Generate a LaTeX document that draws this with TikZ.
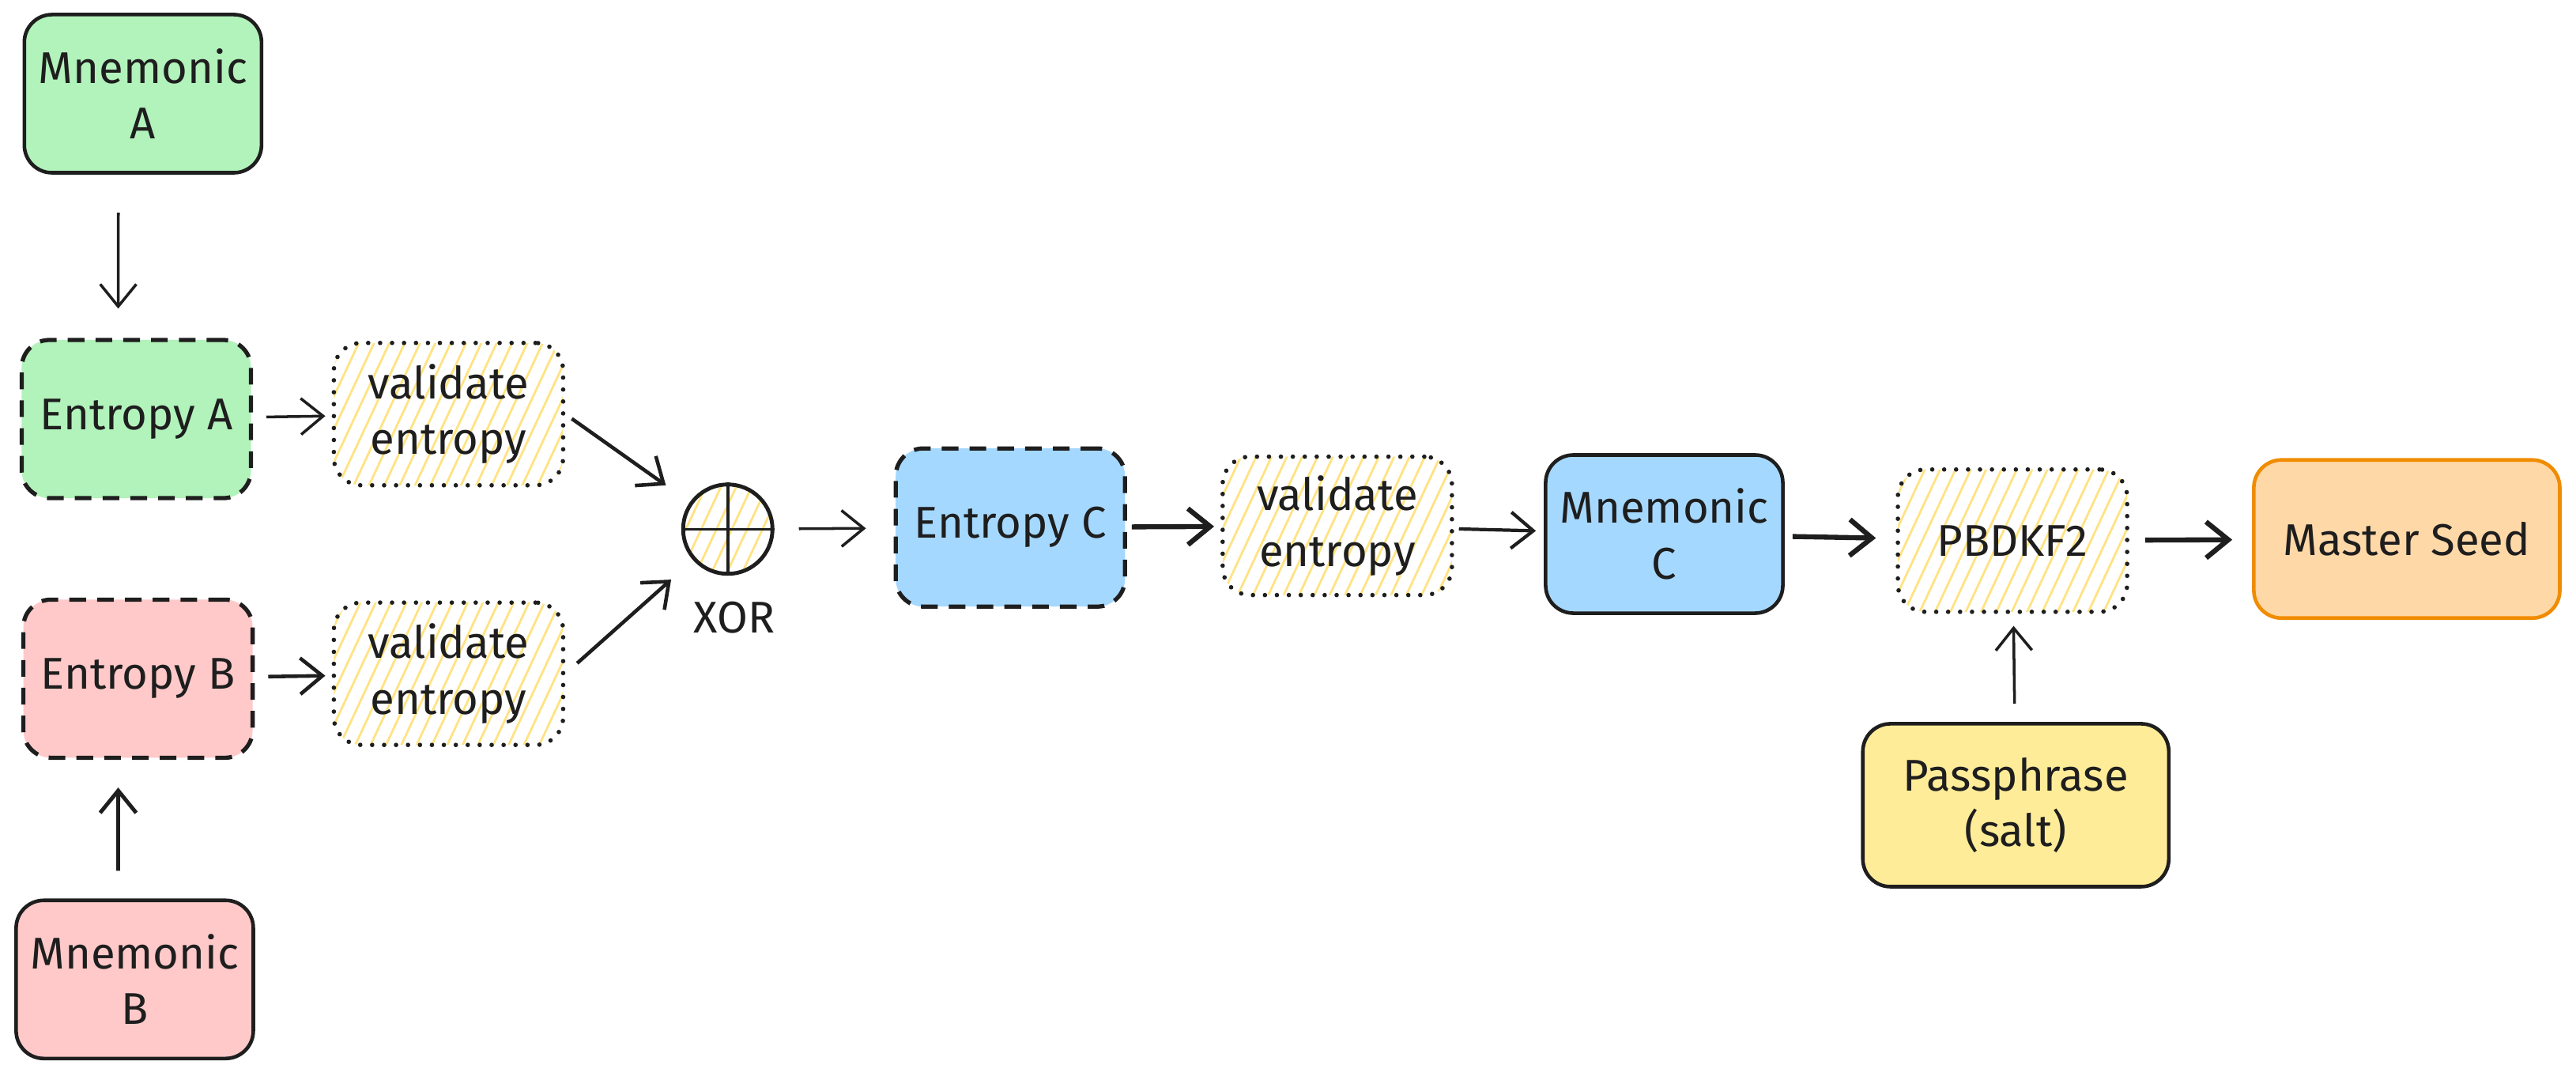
\documentclass[tikz,border=0pt]{standalone}
\usepackage{xcolor}
\usepackage{fontspec}
\setmainfont{Fira Sans}
\usepackage{tikz}
\usetikzlibrary{arrows.meta,patterns.meta,positioning}
\definecolor{ink}{HTML}{1E1E1E}
\definecolor{grn}{HTML}{B2F2BB}
\definecolor{rd}{HTML}{FFC9C9}
\definecolor{blu}{HTML}{A5D8FF}
\definecolor{ylw}{HTML}{FFEC99}
\definecolor{org}{HTML}{FFD8A8}
\definecolor{orgline}{HTML}{F08C00}
\definecolor{hatch}{HTML}{FFE383}
\tikzstyle{hatched} = [path picture={\fill[solid, pattern={Lines[angle=65,distance=5pt,line width=0.8pt]}, pattern color=hatch] (path picture bounding box.south west) rectangle (path picture bounding box.north east);}]
\tikzstyle{box_s} = [rectangle, rounded corners=0.35cm, draw=ink, line width=1.3pt, align=center, text=ink, font=\fontsize{16}{20}\selectfont, inner sep=0pt, minimum width=3cm, minimum height=2cm]
\tikzstyle{box_d} = [box_s, line width=1.5pt, dash pattern=on 6pt off 4pt, minimum width=2.9cm]
\tikzstyle{box_v} = [box_s, hatched, line width=1.6pt, line cap=round, dash pattern=on 0pt off 4.3pt, minimum width=2.9cm, minimum height=1.8cm]
\tikzstyle{box_x} = [circle, hatched, draw=ink, line width=1.4pt, inner sep=0pt, minimum size=1.13cm]

\begin{document}
\begin{tikzpicture}[->,>={Straight Barb[length=8pt,width=13pt]}, x=0.2078mm, y=-0.2078mm, ink, line width=1pt]
\useasboundingbox (0,0) rectangle (1568,657);

\node [box_s, fill=grn] (mnemA) at (87,57) {Mnemonic\\A};
\node [box_d, fill=grn] (entA) at (83,255) {Entropy A};
\node [box_v] (valA) at (273,252) {validate\\entropy};
\node [box_d, fill=rd] (entB) at (84,413) {Entropy B};
\node [box_v] (valB) at (273,410) {validate\\entropy};
\node [box_s, fill=rd] (mnemB) at (82,596) {Mnemonic\\B};

\node [box_x] (xor) at (443,322) {};
\node [text=ink, font=\fontsize{16}{20}\selectfont] (xorlbl) at (447,376) {XOR};

\node [box_d, fill=blu] (entC) at (615,321) {Entropy C};
\node [box_v, minimum height=1.75cm] (valC) at (814,320) {validate\\entropy};
\node [box_s, fill=blu] (mnemC) at (1013,325) {Mnemonic\\C};
\node [box_v] (pbkdf) at (1225,329) {PBDKF2};
\node [box_s, fill=org, draw=orgline, minimum width=3.87cm] (seed) at (1465,328) {Master Seed};
\node [box_s, fill=ylw, minimum width=3.87cm, minimum height=2.06cm] (pass) at (1227,490) {Passphrase\\(salt)};

\draw [-] (xor.north) -- (xor.south);
\draw [-] (xor.west) -- (xor.east);

\draw [shorten <=0.48cm, shorten >=0.37cm] ([xshift=-0.31cm]mnemA.south) -- ([xshift=-0.23cm]entA.north);
\draw [shorten <=0.35cm, shorten >=0.35cm, line width=1.4pt] ([xshift=-0.21cm]mnemB.north) -- ([xshift=-0.25cm]entB.south);
\draw [shorten <=0.17cm, shorten >=0.08cm] (entA) -- (valA);
\draw [shorten <=0.17cm, shorten >=0.08cm, line width=1.3pt] (entB) -- (valB);
\draw [shorten <=0.1cm, shorten >=0.37cm, line width=1.3pt] (valA.east) -- (xor);
\draw [shorten <=0.2cm, shorten >=0.37cm, line width=1.3pt] (valB.east) -- (xor);
\draw [shorten <=0.31cm, shorten >=0.35cm] (xor) -- (entC);
\draw [shorten <=0.06cm, shorten >=0.08cm, line width=1.8pt] (entC) -- (valC);
\draw [shorten <=0.06cm, shorten >=0.1cm, line width=1.2pt] (valC) -- (mnemC);
\draw [shorten <=0.1cm, shorten >=0.25cm, line width=1.8pt] (mnemC) -- (pbkdf);
\draw [shorten <=0.2cm, shorten >=0.25cm, line width=1.8pt] (pbkdf) -- (seed);
\draw [shorten <=0.23cm, shorten >=0.15cm] (pass) -- (pbkdf);
\end{tikzpicture}
\end{document}
